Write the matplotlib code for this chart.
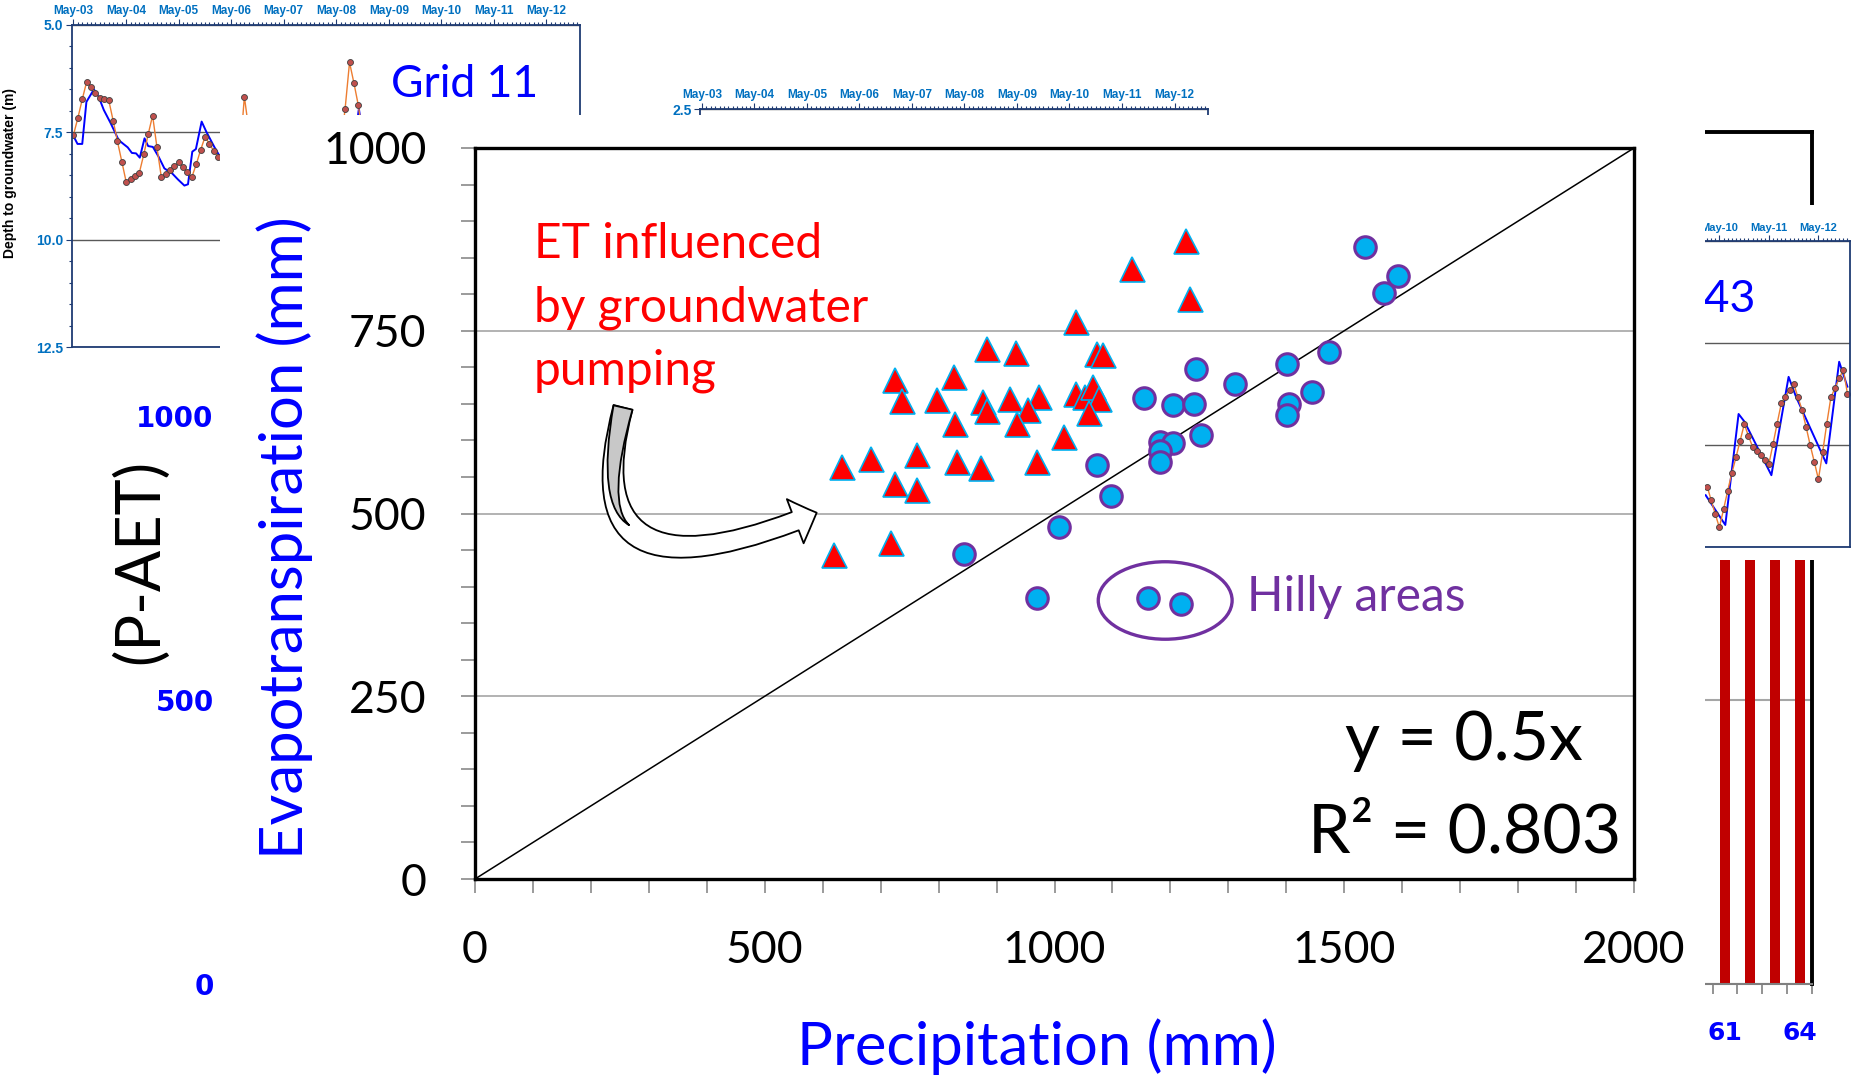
import matplotlib
matplotlib.use('Agg')
import matplotlib.pyplot as plt
import matplotlib.dates as mdates
from matplotlib.patches import Rectangle, Ellipse, FancyArrowPatch
from matplotlib.path import Path
from matplotlib.ticker import MultipleLocator
import numpy as np
import pandas as pd

plt.rcParams['font.family'] = ['Lato', 'DejaVu Sans']

W, H = 1861, 1076

# main scatter: precipitation vs evapotranspiration (mm)
pump_p = [1227, 1134, 1234, 1037, 883, 934, 1073, 1084, 725, 827, 736, 798, 877, 883, 923,
          973, 955, 935, 828, 1037, 1053, 1067, 1077, 1059, 1016, 633, 683, 763, 831, 873,
          970, 725, 762, 619, 718]
pump_et = [873, 834, 794, 762, 725, 719, 718, 717, 682, 687, 654, 655, 653, 640, 657,
           660, 641, 623, 622, 664, 660, 673, 657, 637, 604, 564, 575, 580, 571, 562,
           571, 540, 532, 443, 459]
grid_p = [1245, 1311, 1402, 1404, 1401, 1154, 1205, 1240, 1253, 1182, 1205, 1182, 1182,
          1074, 1097, 1008, 844, 969, 1536, 1592, 1569, 1474, 1444]
grid_et = [697, 677, 704, 650, 635, 658, 648, 650, 608, 598, 597, 586, 570, 566, 524,
           481, 445, 385, 865, 825, 802, 721, 666]
hilly_p = [1162, 1219]
hilly_et = [384, 376]
fit_slope = 0.5
fit_r2 = 0.803
line_p = [0, 2000]

# background bar chart (P-AET), only the last bars show
pet_cat = [60, 61, 62, 63, 64]
pet_val = [1600, 1150, 1050, 1250, 1100]
pet_ticks = [61, 64]

# background groundwater charts (depth, m)
gw11_obs_dates = (pd.date_range('2003-05-01', periods=34, freq='MS')
                  .append(pd.date_range('2006-07-01', periods=3, freq='MS'))
                  .append(pd.date_range('2008-06-01', periods=6, freq='MS')))
gw11_obs = [7.56, 7.16, 6.73, 6.32, 6.44, 6.59, 6.71, 6.73, 6.75, 7.23,
            7.70, 8.18, 8.65, 8.59, 8.52, 8.44, 8.01, 7.55, 7.11, 7.84,
            8.55, 8.46, 8.37, 8.29, 8.20, 8.30, 8.42, 8.54, 8.24, 7.91,
            7.60, 7.77, 7.94, 8.07,
            8.0, 6.67, 7.45,
            7.8, 6.96, 5.87, 6.36, 6.87, 7.6]
gw11_sim_dates = pd.to_datetime([
    '2003-04-27', '2003-05-29', '2003-07-01', '2003-07-30', '2003-09-20', '2003-10-23',
    '2003-11-28', '2004-01-15', '2004-03-10', '2004-04-12', '2004-05-12', '2004-06-10',
    '2004-07-09', '2004-08-04', '2004-09-06', '2004-10-01', '2004-11-03', '2004-12-13',
    '2005-01-22', '2005-03-18', '2005-04-27', '2005-06-10', '2005-07-05', '2005-08-04',
    '2005-08-29', '2005-10-08', '2005-11-10', '2006-01-04', '2006-02-06', '2006-06-01',
    '2008-08-25', '2008-10-05', '2008-11-15'])
gw11_sim = [7.56, 7.77, 7.77, 6.79, 6.50, 6.67, 6.98, 7.29, 7.68, 7.77, 7.85, 7.98,
            7.99, 8.09, 7.64, 7.82, 7.84, 8.07, 8.34, 8.46, 8.60, 8.74, 8.71, 7.95,
            7.89, 7.25, 7.49, 7.84, 8.03, 8.3, 8.0, 6.95, 7.9]

gw43_obs_dates = pd.date_range('2010-02-01', periods=35, freq='MS')
gw43_obs = [8.52, 8.85, 9.19, 9.52, 9.08, 8.63, 8.19, 7.80, 7.40, 6.99, 7.27, 7.54,
            7.64, 7.75, 7.87, 7.97, 7.48, 6.98, 6.48, 6.32, 6.15, 6.00, 6.32, 6.64,
            7.07, 7.50, 7.92, 8.34, 7.68, 6.99, 6.33, 6.10, 5.87, 5.65, 6.24]
gw43_sim_dates = pd.to_datetime(['2010-01-20', '2010-06-14', '2010-09-20', '2010-11-03',
                                 '2011-05-20', '2011-09-24', '2011-11-18', '2012-06-28',
                                 '2012-10-01', '2012-12-01'])
gw43_sim = [8.73, 9.46, 6.74, 6.93, 8.24, 5.83, 6.32, 7.95, 5.46, 6.07]


def frame(x0, y0, x1, y1):
    # pixel box (top-left origin) -> figure fraction rect
    return [x0 / W, 1 - y1 / H, (x1 - x0) / W, (y1 - y0) / H]


def cover(x0, y0, x1, y1, z):
    fig.add_artist(Rectangle((x0 / W, 1 - y1 / H), (x1 - x0) / W, (y1 - y0) / H,
                             transform=fig.transFigure, fc='white', ec='none', zorder=z))


def style_gw(ax, ylo, yhi, ticks, fs):
    navy = '#1F3B73'
    ax.set_xlim(pd.Timestamp('2003-04-18'), pd.Timestamp('2012-12-20'))
    ax.set_ylim(yhi, ylo)
    ax.xaxis.tick_top()
    ax.xaxis.set_major_locator(mdates.MonthLocator(bymonth=5))
    ax.xaxis.set_major_formatter(mdates.DateFormatter('%b-%y'))
    ax.xaxis.set_minor_locator(mdates.MonthLocator())
    ax.set_yticks(ticks)
    ax.yaxis.set_major_formatter('{x:.1f}')
    ax.yaxis.set_minor_locator(MultipleLocator(0.5))
    ax.tick_params(which='both', direction='out', color=navy, width=0.8)
    ax.tick_params(axis='x', which='major', length=4, pad=1.5, labelsize=fs,
                   labelcolor='#0070C0')
    ax.tick_params(axis='x', which='minor', length=2.5)
    ax.tick_params(axis='y', which='major', length=4, pad=2, labelsize=fs + 1.5,
                   labelcolor='#0070C0')
    ax.tick_params(axis='y', which='minor', length=2.5)
    for lab in ax.get_xticklabels() + ax.get_yticklabels():
        lab.set_family('Liberation Sans')
        lab.set_fontweight('bold')
    for s in ax.spines.values():
        s.set_color(navy)
        s.set_linewidth(1.3)
    ax.grid(axis='y', which='major', color='#595959', lw=1)


fig = plt.figure(figsize=(W / 100, H / 100), dpi=100)

# ---- bar chart underneath ----
bax = fig.add_axes(frame(222, 132, 1812, 984))
bax.set_zorder(0)
bax.bar(pet_cat, pet_val, width=0.4, color='#C00000', zorder=2)
bax.set_xlim(0.5, 64.5)
bax.set_ylim(0, 1500)
bax.set_yticks([0, 500, 1000])
bax.set_xticks(pet_ticks)
bax.set_xticks(np.arange(0.5, 65, 1), minor=True)
bax.yaxis.grid(True, color='#A6A6A6', lw=1.5)
bax.set_axisbelow(True)
bax.tick_params(axis='x', which='major', length=0, pad=27, labelsize=18, labelcolor='#0000FF')
bax.tick_params(axis='x', which='minor', length=7, width=1.2, color='#808080')
bax.tick_params(axis='y', length=0, pad=6, labelsize=20, labelcolor='#0000FF')
for lab in bax.get_xticklabels() + bax.get_yticklabels():
    lab.set_family('DejaVu Sans')
    lab.set_fontweight('bold')
bax.spines['left'].set_visible(False)
bax.spines['bottom'].set_color('#808080')
bax.spines['bottom'].set_linewidth(1.5)
for side in ['top', 'right']:
    bax.spines[side].set_color('black')
    bax.spines[side].set_linewidth(2.8)
fig.text(140.5 / W, 1 - 562 / H, '(P-AET)', rotation=90, ha='center', va='center',
         fontsize=44, color='black')

# ---- groundwater chart, top left ----
g1 = fig.add_axes(frame(71.6, 25, 580, 347))
g1.set_zorder(1)
style_gw(g1, 5.0, 12.5, [5.0, 7.5, 10.0, 12.5], 8.5)
g1.plot(gw11_sim_dates, gw11_sim, color='#0000FF', lw=1.4)
g1.plot(gw11_obs_dates, gw11_obs, color='#ED7D31', lw=1.0, marker='o', ms=4.3,
        mfc='#C0504D', mec='#3F3F3F', mew=0.6)
g1.set_ylabel('Depth to groundwater (m)', fontsize=10, fontweight='bold',
              family='Liberation Sans')
g1.yaxis.set_label_coords(-0.107, 0.54)
g1.text(0.628, 0.776, 'Grid 11', transform=g1.transAxes, color='#0000FF', fontsize=32,
        va='baseline')

# ---- groundwater chart, top middle (only its top edge shows) ----
g2 = fig.add_axes(frame(700, 109, 1208, 431))
g2.set_zorder(1)
style_gw(g2, 2.5, 10.0, [2.5], 8.5)

# ---- groundwater chart, right ----
cover(1300, 205, 1861, 560, 1.4)
g3 = fig.add_axes(frame(1371, 241, 1850, 547))
g3.set_zorder(1.5)
style_gw(g3, 2.5, 10.0, [2.5, 5.0, 7.5, 10.0], 8)
g3.plot(gw43_sim_dates, gw43_sim, color='#0000FF', lw=1.4)
g3.plot(gw43_obs_dates, gw43_obs, color='#ED7D31', lw=1.0, marker='o', ms=4.3,
        mfc='#C0504D', mec='#3F3F3F', mew=0.6)
g3.text(0.802, 0.768, 'Grid 43', transform=g3.transAxes, color='#0000FF', fontsize=32,
        ha='right', va='baseline')

# ---- white slide area of the main chart ----
cover(220, 115, 1705, 1076, 2)

# ---- main chart ----
ax = fig.add_axes(frame(475, 148, 1634, 879))
ax.set_zorder(3)
ax.set_xlim(0, 2000)
ax.set_ylim(0, 1000)
ax.set_xticks([0, 500, 1000, 1500, 2000])
ax.set_yticks([0, 250, 500, 750, 1000])
ax.xaxis.set_minor_locator(MultipleLocator(100))
ax.yaxis.set_minor_locator(MultipleLocator(50))
ax.tick_params(which='both', direction='out', length=10, width=1.1, color='#808080')
ax.tick_params(axis='x', labelsize=32, pad=27)
ax.tick_params(axis='y', labelsize=32, pad=25)
ax.yaxis.grid(True, color='#A6A6A6', lw=1.2)
ax.set_axisbelow(True)
for s in ax.spines.values():
    s.set_color('black')
    s.set_linewidth(2.4)

ax.plot(line_p, [fit_slope * p for p in line_p], color='black', lw=1.1, zorder=2)
ax.plot(pump_p, pump_et, '^', ms=18, mfc='#FF0000', mec='#00B0F0', mew=1.2, zorder=3)
ax.plot(grid_p + hilly_p, grid_et + hilly_et, 'o', ms=15.5, mfc='#00B0F0', mec='#7030A0',
        mew=2.2, zorder=3)

for txt, yb in [('ET influenced', 849.5), ('by groundwater', 763), ('pumping', 677)]:
    ax.text(102, yb, txt, color='#FF0000', fontsize=34.5, va='baseline')

ax.add_patch(Ellipse((1191, 381), 231, 106, fill=False, ec='#7030A0', lw=2.4, zorder=4))
ax.text(1332, 366, 'Hilly areas', color='#7030A0', fontsize=34.5, va='baseline')

ax.text(1707, 163, f'y = {fit_slope}x', fontsize=49, ha='center', va='baseline')
ax.text(1707, 36, f'R² = {fit_r2}', fontsize=49, ha='center', va='baseline')

# curved block arrow pointing at the pumping cluster
curve = Path([(255.4, 645), (160, 360), (589.6, 501.1)],
             [Path.MOVETO, Path.CURVE3, Path.CURVE3])
ax.add_patch(FancyArrowPatch(path=curve,
                             arrowstyle='simple,head_length=1.66,head_width=3.4,tail_width=1.4',
                             mutation_scale=10, fc='white', ec='black', lw=1.3, zorder=4))
twist = Path([(255.4, 645), (217.5, 513), (266, 484)],
             [Path.MOVETO, Path.CURVE3, Path.CURVE3])
ax.add_patch(FancyArrowPatch(path=twist, arrowstyle='wedge,tail_width=1.4,shrink_factor=0.5',
                             mutation_scale=10, fc='#C8C8C8', ec='black', lw=1.3, zorder=4))

fig.text(285 / W, 1 - 537.5 / H, 'Evapotranspiration (mm)', rotation=90, color='#0000FF',
         fontsize=43, ha='center', va='center', zorder=5)
fig.text(1036.5 / W, 1 - 1047 / H, 'Precipitation (mm)', color='#0000FF',
         fontsize=43, ha='center', va='center', zorder=5)

fig.savefig('out.png', dpi=100, facecolor='white')
